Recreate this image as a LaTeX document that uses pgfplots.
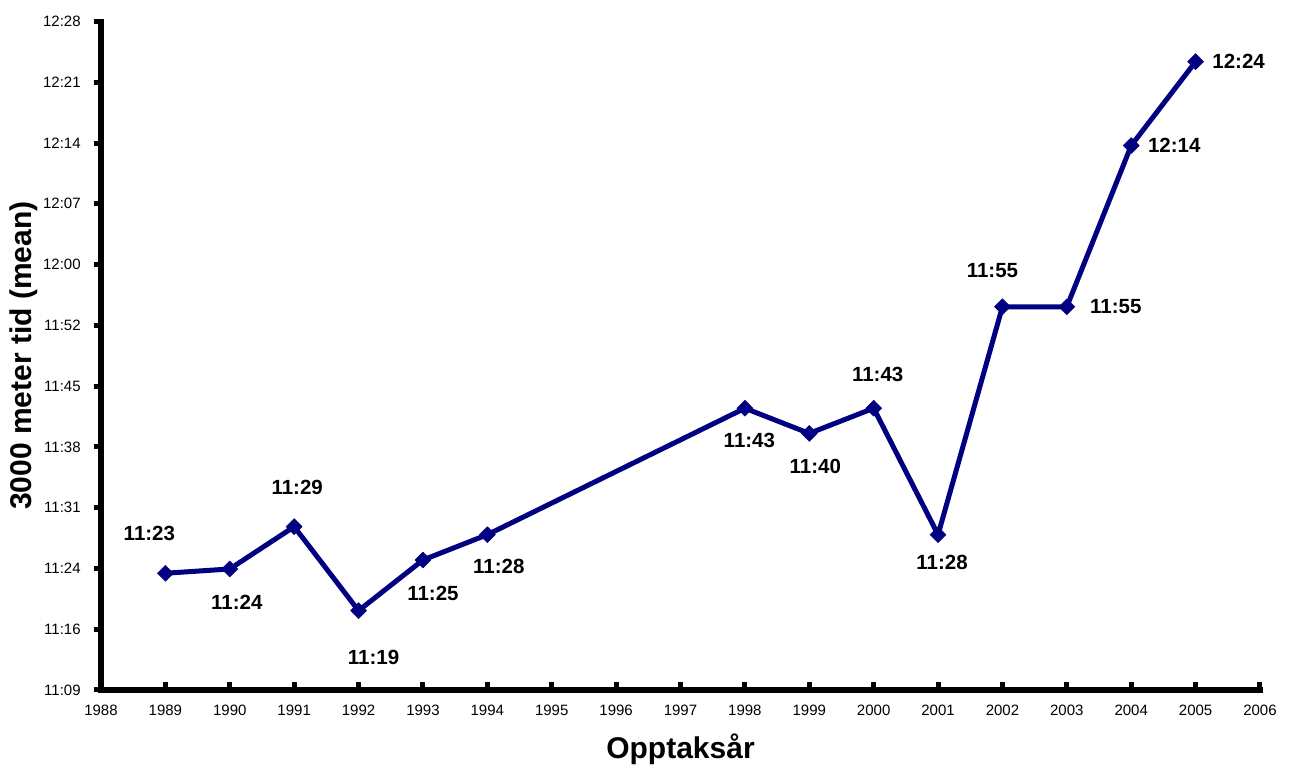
\documentclass[border=0pt]{standalone}
\usepackage{fontspec}
\setmainfont{Liberation Sans}
\usepackage{pgfplots}
\pgfplotsset{compat=1.18}
\definecolor{navy}{RGB}{0,0,128}
\begin{document}
\begin{tikzpicture}
\begin{axis}[
  at={(0,0)}, anchor=south west,
  scale only axis,
  width=1159pt, height=668.5pt,
  xmin=1988, xmax=2006,
  ymin=9.6, ymax=88.8,
  axis lines=left,
  axis line style={-, line width=5.5pt, line cap=rect, black},
  xtick={1988,1989,1990,1991,1992,1993,1994,1995,1996,1997,1998,1999,2000,2001,2002,2003,2004,2005,2006},
  xticklabels={1988,1989,1990,1991,1992,1993,1994,1995,1996,1997,1998,1999,2000,2001,2002,2003,2004,2005,2006},
  ytick={9.6,16.8,24,31.2,38.4,45.6,52.8,60,67.2,74.4,81.6,88.8},
  yticklabels={11:09,11:16,11:24,11:31,11:38,11:45,11:52,12:00,12:07,12:14,12:21,12:28},
  xtick align=inside,
  ytick align=outside,
  major tick length=7.5pt,
  tick style={black, line width=5pt},
  minor tick num=0,
  xticklabel style={font=\fontsize{15}{18}\selectfont, anchor=north, inner sep=0pt, yshift=-15pt},
  yticklabel style={font=\fontsize{15}{18}\selectfont, anchor=east, inner sep=0pt, xshift=-12.7pt},
  xlabel={Opptaksår},
  xlabel style={font=\fontsize{30}{36}\selectfont\bfseries, at={(axis description cs:0.5,0)}, anchor=base, yshift=-69pt, inner sep=0pt},
  clip=false,
  ]
\addplot[navy, line width=5pt, line join=round, mark=square*, mark size=5.66pt,
  mark options={solid, fill=navy, draw=navy, line width=0.5pt, rotate=45}]
  coordinates {
  (1989,23.43) (1990,23.94) (1991,28.95) (1992,19.0) (1993,25.0) (1994,28.0)
  (1998,42.98) (1999,40.0) (2000,42.98) (2001,28.0) (2002,55.0) (2003,55.0)
  (2004,74.1) (2005,84.04)
  };
\begin{scope}[every node/.style={font=\fontsize{20.5}{24}\selectfont\bfseries}]
\node[xshift=-16pt, yshift=40pt] at (axis cs:1989,23.43) {11:23};
\node[xshift=7pt, yshift=-33pt] at (axis cs:1990,23.94) {11:24};
\node[xshift=3pt, yshift=39pt] at (axis cs:1991,28.95) {11:29};
\node[xshift=15pt, yshift=-46.7pt] at (axis cs:1992,19.0) {11:19};
\node[xshift=10pt, yshift=-33pt] at (axis cs:1993,25.0) {11:25};
\node[xshift=11.5pt, yshift=-32pt] at (axis cs:1994,28.0) {11:28};
\node[xshift=4.5pt, yshift=-32pt] at (axis cs:1998,42.98) {11:43};
\node[xshift=6pt, yshift=-33pt] at (axis cs:1999,40.0) {11:40};
\node[xshift=4pt, yshift=34pt] at (axis cs:2000,42.98) {11:43};
\node[xshift=4pt, yshift=-28pt] at (axis cs:2001,28.0) {11:28};
\node[xshift=-10pt, yshift=36pt] at (axis cs:2002,55.0) {11:55};
\node[xshift=49pt, yshift=0pt] at (axis cs:2003,55.0) {11:55};
\node[xshift=43pt, yshift=0pt] at (axis cs:2004,74.1) {12:14};
\node[xshift=43pt, yshift=0pt] at (axis cs:2005,84.04) {12:24};
\end{scope}
\node[xshift=-69pt, rotate=90, anchor=base, inner sep=0pt, font=\fontsize{30}{36}\selectfont\bfseries] at (axis description cs:0,0.5) {3000 meter tid (mean)};
\end{axis}
\pgfresetboundingbox
\path[use as bounding box] (-101pt,-75pt) rectangle (1189pt,690pt);
\end{tikzpicture}
\end{document}
